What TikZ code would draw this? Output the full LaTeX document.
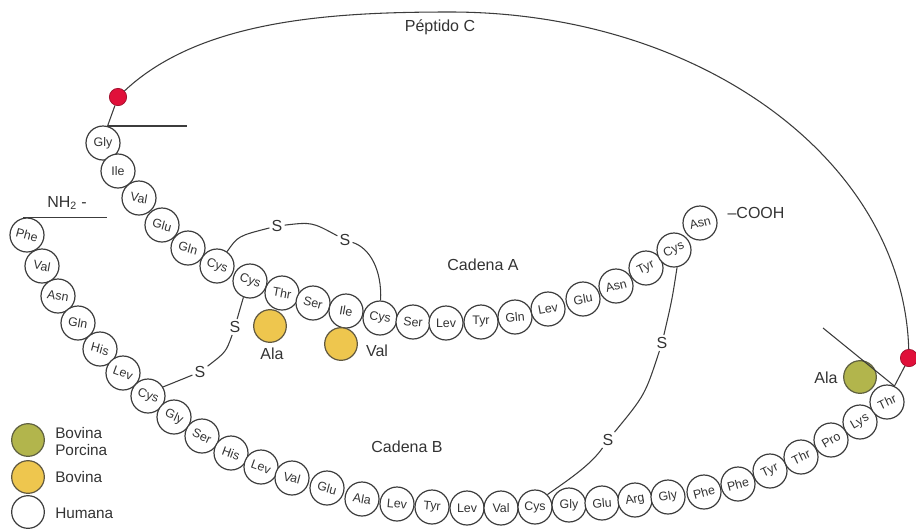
\documentclass[tikz,border=0pt]{standalone}
\usepackage{fontspec}
\setmainfont{Liberation Sans}
\definecolor{linec}{HTML}{3C3C3C}
\definecolor{txt}{HTML}{333333}
\definecolor{yel}{HTML}{EEC64E}
\definecolor{grn}{HTML}{B2B54C}
\definecolor{reddot}{HTML}{E0103A}
\begin{document}
\begin{tikzpicture}[x=0.75pt,y=-0.75pt,
  res/.style={circle,draw=linec,line width=0.9pt,minimum size=25.5pt,inner sep=0pt,fill=white,text=txt,font=\fontsize{9.3}{9.3}\selectfont},
  yelres/.style={circle,draw=linec!80!yel,line width=0.9pt,minimum size=24.5pt,inner sep=0pt,fill=yel},
  grnres/.style={circle,draw=linec!70!grn,line width=0.9pt,minimum size=24.5pt,inner sep=0pt,fill=grn},
  legwhite/.style={circle,draw=linec,line width=0.9pt,minimum size=24.5pt,inner sep=0pt,fill=white},
  rdot/.style={circle,draw=reddot!70!black,line width=0.5pt,fill=reddot,minimum size=13pt,inner sep=0pt},
  sulf/.style={text=txt,font=\fontsize{12}{12}\selectfont,inner sep=1.5pt},
  lab/.style={text=txt,font=\fontsize{12}{12}\selectfont,inner sep=0pt},
  leg/.style={text=txt,font=\fontsize{11.5}{11.5}\selectfont,inner sep=0pt,anchor=west},
  bond/.style={draw=linec,line width=0.8pt}]
\useasboundingbox (0,0) rectangle (916,529);

% Chain A
\foreach \n/\x/\y/\t/\r in {a1/103/143/Gly/0, a2/118/171/Ile/0, a3/139/198/Val/-10,
  a4/162/225/Glu/-15, a5/188/248/Gln/-15, a6/217/266/Cys/-20, a7/250/281/Cys/-20,
  a8/282/293/Thr/-10, a9/313/303/Ser/-15, a10/346/311/Ile/-10, a11/380/318/Cys/-10,
  a12/413/322/Ser/-5, a13/446/323/Lev/0, a14/481/322/Tyr/0, a15/515/317/Gln/5,
  a16/548/309/Lev/10, a17/583/299/Glu/10, a18/616/286/Asn/15, a19/646/268/Tyr/25,
  a20/674/250/Cys/25, a21/700/223/Asn/15}
  \node[res] (\n) at (\x,\y) {\rotatebox{\r}{\t}};

% Chain B
\foreach \n/\x/\y/\t/\r in {b1/27/235/Phe/-15, b2/42/266/Val/-10, b3/58/296/Asn/-10,
  b4/78/323/Gln/-10, b5/100/349/His/-15, b6/123/373/Lev/-20, b7/148/396/Cys/-20,
  b8/174/417/Gly/-25, b9/202/436/Ser/-25, b10/231/453/His/-20, b11/261/467/Lev/-20,
  b12/292/478/Val/-15, b13/327/488/Glu/-15, b14/362/499/Ala/-10, b15/397/504/Lev/-5,
  b16/432/507/Tyr/-5, b17/467/508/Lev/0, b18/501/508/Val/0, b19/535/507/Cys/0,
  b20/569/505/Gly/0, b21/602/503/Glu/5, b22/635/500/Arg/10, b23/668/497/Gly/10,
  b24/704/492/Phe/15, b25/738/484/Phe/15, b26/770/471/Tyr/25, b27/801/457/Thr/25,
  b28/831/440/Pro/30, b29/860/422/Lys/30, b30/887/402/Thr/25}
  \node[res] (\n) at (\x,\y) {\rotatebox{\r}{\t}};

% species substitutions
\node[yelres] (ya) at (270,326) {};
\node[lab] (yat) at (272,354) {Ala};
\node[yelres] (yv) at (341,344) {};
\node[lab] (yvt) at (377,351) {Val};
\node[grnres] (ga) at (860,377) {};
\node[lab] (gat) at (826,378) {Ala};

% red dots and peptide C
\node[rdot] (rd1) at (118,97) {};
\node[rdot] (rd2) at (909,358) {};
\coordinate (ctop) at (450,12);
\draw[bond] (rd1) .. controls (200,20) and (330,12) .. (ctop)
  .. controls (700,12) and (903,160) .. (rd2);
\node[lab] (pc) at (440,27) {Péptido C};

% cut lines
\coordinate (cut1) at (187,127);
\draw[bond] (rd1) -- (a1.75);
\draw[bond] (a1.75) -- (a1.75 -| cut1);
\coordinate (cut2) at (823,328);
\draw[bond] (cut2) -- (b30.65) -- (rd2);

% termini
\coordinate (nhend) at (107,217);
\draw[bond] (b1.102) -- (b1.102 -| nhend);
\node[lab] (nh) at (67,203) {NH\textsubscript{2} -};
\node[lab] (cooh) at (756,213) {--COOH};

% disulfide bridges
\node[sulf] (s1) at (277,226) {S};
\node[sulf] (s2) at (345,240) {S};
\node[sulf] (s3) at (235,327) {S};
\node[sulf] (s4) at (200,372) {S};
\node[sulf] (s5) at (662,343) {S};
\node[sulf] (s6) at (608,440) {S};
\draw[bond] (a6.55) .. controls (238,236) .. (s1);
\draw[bond] (s1) .. controls (312,222) .. (s2);
\draw[bond] (s2) .. controls (370,248) and (382,270) .. (a11.88);
\draw[bond] (a7.248) .. controls (240,308) .. (s3);
\draw[bond] (s3) .. controls (226,352) .. (s4);
\draw[bond] (s4) -- (b7.31);
\draw[bond] (a20.280) .. controls (672,300) .. (s5);
\draw[bond] (s5) .. controls (645,395) .. (s6);
\draw[bond] (s6) .. controls (590,466) and (565,482) .. (b19.45);

% chain names
\node[lab] (ca) at (483,265) {Cadena A};
\node[lab] (cb) at (407,447) {Cadena B};

% legend
\node[grnres] (lg) at (28,440) {};
\node[yelres] (ly) at (28,477) {};
\node[legwhite] (lw) at (28,512) {};
\node[leg] (lt1) at (55,433) {Bovina};
\node[leg] (lt2) at (55,450) {Porcina};
\node[leg] (lt3) at (55,477) {Bovina};
\node[leg] (lt4) at (55,513) {Humana};
\end{tikzpicture}
\end{document}
